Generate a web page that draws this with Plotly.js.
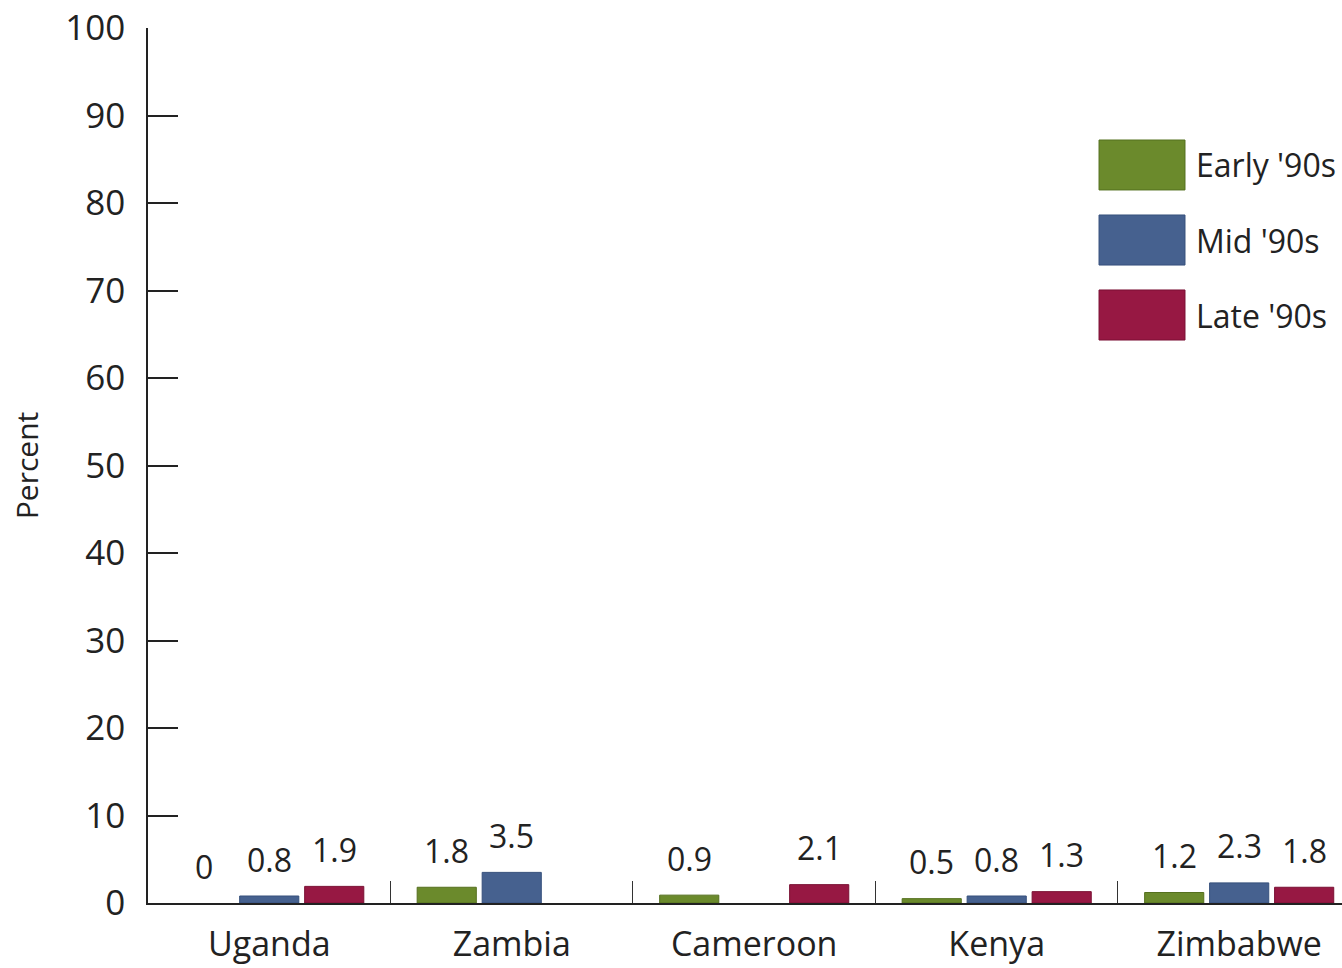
<!DOCTYPE html>
<html>
<head>
<meta charset="utf-8">
<script src="https://cdn.plot.ly/plotly-3.0.1.min.js"></script>
<style>html,body{margin:0;padding:0;background:#fff;}#chart{width:1342px;height:968px;}</style>
</head>
<body>
<div id="chart"></div>
<script>
const countries = ["Uganda", "Zambia", "Cameroon", "Kenya", "Zimbabwe"];
const seriesNames = ["Early '90s", "Mid '90s", "Late '90s"];
const earlyValues = [0, 1.8, 0.9, 0.5, 1.2];
const midValues = [0.8, 3.5, null, 0.8, 2.3];
const lateValues = [1.9, null, 2.1, 1.3, 1.8];
const yTickValues = [0, 10, 20, 30, 40, 50, 60, 70, 80, 90, 100];

const colors = ["#6b8a2c", "#46618f", "#971843"];
const edge = ["#55701f", "#36507c", "#7a1034"];
const FONT = "Open Sans, Noto Sans, sans-serif";
const BARGAP = 0.196;

const seriesValues = [earlyValues, midValues, lateValues];
const traces = seriesValues.map((vals, i) => ({
  type: "bar",
  name: seriesNames[i],
  x: countries,
  y: vals,
  marker: {color: colors[i], line: {color: edge[i], width: vals.map(v => (v ? 1 : 0))}},
  hoverinfo: "x+y+name",
  showlegend: false
}));

const shapes = [];
const annotations = [];

// value labels above each bar (centred on each bar's slot within the group)
const slot = (1 - BARGAP) / seriesValues.length;
seriesValues.forEach((vals, i) => {
  vals.forEach((v, j) => {
    if (v === null) return;
    annotations.push({xref: "x", yref: "y", x: j + (i - 1) * slot, y: v,
      xanchor: "center", yanchor: "middle", yshift: 37, showarrow: false,
      text: String(v), font: {family: FONT, size: 32, color: "#222"}});
  });
});

// custom legend (large swatches like the reference)
const legTop = [0.872, 0.7863, 0.7006];
const legBot = [0.8149, 0.7291, 0.6434];
seriesNames.forEach((name, i) => {
  shapes.push({type: "rect", xref: "paper", yref: "paper",
    x0: 0.7965, x1: 0.8685, y0: legBot[i], y1: legTop[i],
    fillcolor: colors[i], line: {color: edge[i], width: 1}});
  annotations.push({xref: "paper", yref: "paper", x: 0.876, y: (legTop[i] + legBot[i]) / 2,
    xanchor: "left", yanchor: "middle", showarrow: false, text: name,
    font: {family: FONT, size: 32, color: "#222"}});
});

const layout = {
  width: 1342, height: 968,
  margin: {l: 148, r: 0, t: 28, b: 65},
  paper_bgcolor: "#fff", plot_bgcolor: "#fff",
  barmode: "group", bargap: BARGAP, bargroupgap: 0.09,
  font: {family: FONT, color: "#222"},
  xaxis: {
    type: "category",
    range: [-0.5, 4.424],
    showline: true, linecolor: "#222", linewidth: 1.5,
    ticks: "inside", tickson: "boundaries", ticklen: 22, tickwidth: 1.3, tickcolor: "#333",
    tickfont: {family: FONT, size: 34, color: "#222"},
    ticklabelstandoff: 10,
    showgrid: false, zeroline: false, fixedrange: true
  },
  yaxis: {
    range: [0, 100],
    tickvals: yTickValues,
    ticktext: yTickValues.map(String),
    showline: true, linecolor: "#222", linewidth: 1.5,
    ticks: "inside", ticklen: 30, tickwidth: 1.5, tickcolor: "#222",
    tickfont: {family: FONT, size: 35, color: "#222"},
    ticklabelstandoff: 14,
    showgrid: false, zeroline: false, fixedrange: true,
    title: {text: "Percent", font: {family: FONT, size: 30, color: "#222"}, standoff: 18}
  },
  shapes: shapes,
  annotations: annotations,
  showlegend: false
};

Plotly.newPlot("chart", traces, layout, {displayModeBar: false, staticPlot: false});
</script>
</body>
</html>
